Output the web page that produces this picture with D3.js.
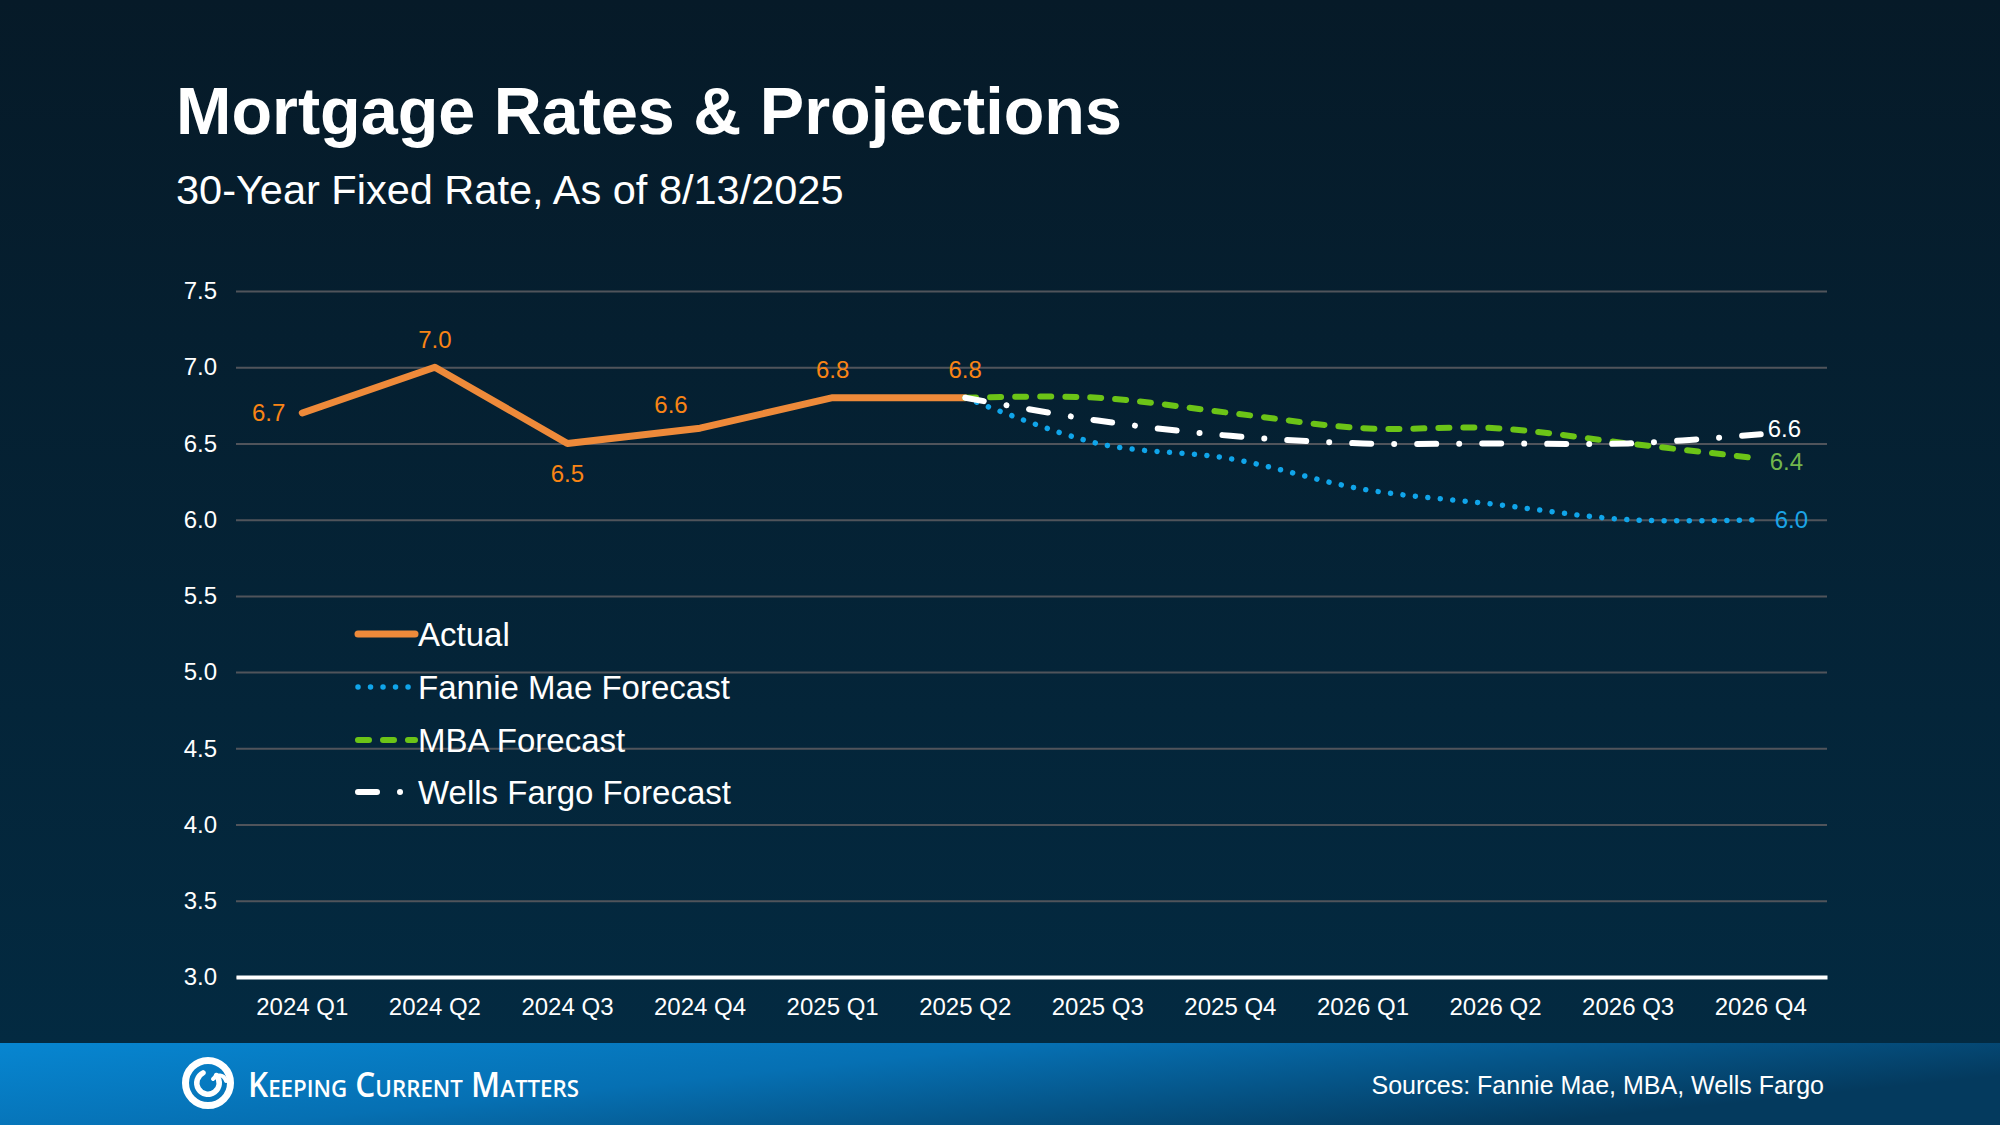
<!DOCTYPE html>
<html>
<head>
<meta charset="utf-8">
<script src="https://cdn.jsdelivr.net/npm/d3@7"></script>
<style>
  html, body { margin: 0; padding: 0; background: #04202f; }
  #chart { width: 2000px; height: 1125px; }
  text { font-family: "Liberation Sans", Arial, Helvetica, sans-serif; }
</style>
</head>
<body>
<div id="chart"></div>
<script>
const categories = ["2024 Q1", "2024 Q2", "2024 Q3", "2024 Q4", "2025 Q1", "2025 Q2",
  "2025 Q3", "2025 Q4", "2026 Q1", "2026 Q2", "2026 Q3", "2026 Q4"];
const actual = [6.7, 7.0, 6.5, 6.6, 6.8, 6.8, null, null, null, null, null, null];
const fannieMae = [null, null, null, null, null, 6.8, 6.5, 6.4, 6.2, 6.1, 6.0, 6.0];
const mba = [null, null, null, null, null, 6.8, 6.8, 6.7, 6.6, 6.6, 6.5, 6.4];
const wellsFargo = [null, null, null, null, null, 6.8, 6.65, 6.55, 6.5, 6.5, 6.5, 6.56];
const yTicks = [3.0, 3.5, 4.0, 4.5, 5.0, 5.5, 6.0, 6.5, 7.0, 7.5];

const W = 2000, H = 1125;
const plot = { left: 236, right: 1827, top: 291, bottom: 977 };
const footerY = 1043;

const svg = d3.select("#chart")
  .append("svg")
  .attr("viewBox", `0 0 ${W} ${H}`)
  .attr("width", W)
  .attr("height", H);

const defs = svg.append("defs");
const bg = defs.append("linearGradient").attr("id", "bg")
  .attr("x1", 0).attr("y1", 0).attr("x2", 0).attr("y2", 1);
bg.append("stop").attr("offset", "0%").attr("stop-color", "#061a28");
bg.append("stop").attr("offset", "100%").attr("stop-color", "#032a41");

const foot = defs.append("linearGradient").attr("id", "foot")
  .attr("x1", 0).attr("y1", 0).attr("x2", 1).attr("y2", 0.4);
foot.append("stop").attr("offset", "0%").attr("stop-color", "#0786d1");
foot.append("stop").attr("offset", "45%").attr("stop-color", "#0670b3");
foot.append("stop").attr("offset", "100%").attr("stop-color", "#043a5e");

svg.append("rect").attr("width", W).attr("height", footerY).attr("fill", "url(#bg)");
svg.append("rect").attr("y", footerY).attr("width", W).attr("height", H - footerY)
  .attr("fill", "url(#foot)");

// titles
svg.append("text")
  .attr("x", 176).attr("y", 134)
  .attr("fill", "#fff")
  .style("font-size", "66.5px")
  .style("font-weight", "bold")
  .text("Mortgage Rates & Projections");

svg.append("text")
  .attr("x", 176).attr("y", 204)
  .attr("fill", "#fff")
  .style("font-size", "41.5px")
  .text("30-Year Fixed Rate, As of 8/13/2025");

// scales
const x = d3.scaleBand().domain(categories).range([plot.left, plot.right]);
const cx = (c) => x(c) + x.bandwidth() / 2;
const y = d3.scaleLinear().domain([3, 7.5]).range([plot.bottom, plot.top]);

// y grid + labels
const yAxis = svg.append("g")
  .attr("transform", `translate(${plot.left},0)`)
  .call(d3.axisLeft(y).tickValues(yTicks).tickFormat(d3.format(".1f"))
    .tickSize(-(plot.right - plot.left)).tickPadding(19));
yAxis.select(".domain").remove();
yAxis.selectAll(".tick line").attr("stroke", "#50545b").attr("stroke-width", 2);
yAxis.selectAll(".tick text").attr("fill", "#fff")
  .style("font-size", "24px").style("font-family", "Liberation Sans, Arial, sans-serif");

// x axis
const xAxis = svg.append("g")
  .attr("transform", `translate(0,${plot.bottom})`)
  .call(d3.axisBottom(x).tickSize(0).tickPadding(21));
xAxis.select(".domain").attr("stroke", "#fff").attr("stroke-width", 4);
xAxis.selectAll(".tick text").attr("fill", "#fff")
  .style("font-size", "24px").style("font-family", "Liberation Sans, Arial, sans-serif");

// series
const series = [
  { name: "Actual", values: actual, color: "#ee8a3a", label: "#f98415", width: 7, dash: null, curve: d3.curveLinear },
  { name: "Fannie Mae Forecast", values: fannieMae, color: "#10a5ea", label: "#1ba4e6", width: 5.5, dash: "0.01 12.5", curve: d3.curveCatmullRom },
  { name: "MBA Forecast", values: mba, color: "#6cc417", label: "#72b64c", width: 6, dash: "11 14", curve: d3.curveCatmullRom },
  { name: "Wells Fargo Forecast", values: wellsFargo, color: "#ffffff", label: "#ffffff", width: 6, dash: "19 23 0.01 23", curve: d3.curveCatmullRom },
];

const pts = (s) => categories.map((c, i) => ({ c, v: s.values[i] }));

series.forEach((s) => {
  const line = d3.line()
    .defined((d) => d.v != null)
    .x((d) => cx(d.c))
    .y((d) => y(d.v))
    .curve(s.curve);
  svg.append("path")
    .datum(pts(s))
    .attr("d", line)
    .attr("fill", "none")
    .attr("stroke", s.color)
    .attr("stroke-width", s.width)
    .attr("stroke-linecap", "round")
    .attr("stroke-linejoin", "round")
    .attr("stroke-dasharray", s.dash);
});

// actual data labels
const actualPos = [
  { dx: -17, dy: 0, anchor: "end" },
  { dx: 0, dy: -28, anchor: "middle" },
  { dx: 0, dy: 30, anchor: "middle" },
  { dx: -29, dy: -24, anchor: "middle" },
  { dx: 0, dy: -28, anchor: "middle" },
  { dx: 0, dy: -28, anchor: "middle" },
];
svg.selectAll(".actual-label")
  .data(pts(series[0]).filter((d) => d.v != null))
  .join("text")
  .attr("class", "actual-label")
  .attr("x", (d, i) => cx(d.c) + actualPos[i].dx)
  .attr("y", (d, i) => y(d.v) + actualPos[i].dy)
  .attr("dy", "0.35em")
  .attr("text-anchor", (d, i) => actualPos[i].anchor)
  .attr("fill", series[0].label)
  .style("font-size", "24px")
  .text((d) => d3.format(".1f")(d.v));

// forecast end labels
const endOffset = { "Fannie Mae Forecast": 14, "MBA Forecast": 9, "Wells Fargo Forecast": 7 };
const endDy = { "Fannie Mae Forecast": 0, "MBA Forecast": 3, "Wells Fargo Forecast": -6 };
series.slice(1).forEach((s) => {
  const last = categories.length - 1;
  svg.append("text")
    .attr("x", cx(categories[last]) + endOffset[s.name])
    .attr("y", y(s.values[last]) + endDy[s.name])
    .attr("dy", "0.35em")
    .attr("fill", s.label)
    .style("font-size", "24px")
    .text(d3.format(".1f")(s.values[last]));
});

// legend
const legendRowY = [634, 687, 740, 792];
const legend = svg.append("g").attr("transform", "translate(358,0)");
series.forEach((s, i) => {
  legend.append("line")
    .attr("x1", 0).attr("x2", 57)
    .attr("y1", legendRowY[i]).attr("y2", legendRowY[i])
    .attr("stroke", s.color)
    .attr("stroke-width", s.width)
    .attr("stroke-linecap", "round")
    .attr("stroke-dasharray", s.dash);
  legend.append("text")
    .attr("x", 60).attr("y", legendRowY[i])
    .attr("dy", "0.35em")
    .attr("fill", "#fff")
    .style("font-size", "33px")
    .text(s.name);
});

// footer logo
const logo = svg.append("g").attr("transform", "translate(208,1083)");
logo.append("circle").attr("r", 22.5).attr("fill", "none")
  .attr("stroke", "#fff").attr("stroke-width", 7);
const arc = d3.arc().innerRadius(8.5).outerRadius(14)
  .startAngle(0.6).endAngle(2 * Math.PI - 0.2).cornerRadius(3);
logo.append("path").attr("d", arc()).attr("fill", "#fff");
logo.append("path")
  .attr("d", "M5,-4 C9,-9 16,-9 18,-2")
  .attr("fill", "none").attr("stroke", "#fff").attr("stroke-width", 4)
  .attr("stroke-linecap", "round");

svg.append("text")
  .attr("x", 248).attr("y", 1097)
  .attr("fill", "#fff")
  .attr("textLength", 331)
  .attr("lengthAdjust", "spacingAndGlyphs")
  .style("font-family", "'Open Sans', 'Noto Sans', sans-serif")
  .style("font-weight", 600)
  .style("font-size", "34px")
  .style("font-variant", "small-caps")
  .text("Keeping Current Matters");

svg.append("text")
  .attr("x", 1824).attr("y", 1094)
  .attr("text-anchor", "end")
  .attr("fill", "#fff")
  .style("font-size", "25px")
  .text("Sources: Fannie Mae, MBA, Wells Fargo");
</script>
</body>
</html>
